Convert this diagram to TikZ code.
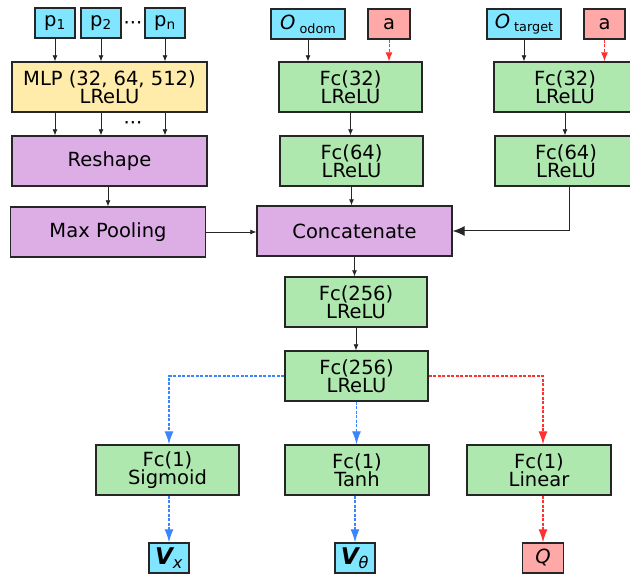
\documentclass[tikz,border=0pt]{standalone}
\usepackage{fontspec}
\setmainfont{DejaVu Sans}
\usepackage{tikz}
\usetikzlibrary{arrows.meta}
\definecolor{in_fill}{HTML}{80E5FF}
\definecolor{act_fill}{HTML}{FFA8A8}
\definecolor{mlp_fill}{HTML}{FFEBAA}
\definecolor{op_fill}{HTML}{DDAEE6}
\definecolor{fc_fill}{HTML}{AFE8AF}
\definecolor{edge_col}{HTML}{262626}
\definecolor{blue_flow}{HTML}{3A86FF}
\definecolor{red_flow}{HTML}{FF3030}

\begin{document}
\begin{tikzpicture}[
    x=1pt, y=-1pt,
    % Stili per i blocchi
    block/.style = {
        draw=edge_col,
        line width=1.4pt,
        inner sep=0,
        align=center,
        font=\fontsize{19.5}{17.5}\selectfont,
        minimum height=50pt
    },
    fc_block/.style = {block, fill=fc_fill, minimum width=143pt},
    op_block/.style = {block, fill=op_fill, minimum width=195pt},
    in_block/.style = {block, fill=in_fill, minimum height=30pt},
    act_block/.style = {block, fill=act_fill, minimum height=30pt, minimum width=42pt},
    dots/.style = {font=\fontsize{19.5}{17}\selectfont, inner sep=0},
    % Stili per le frecce
    flow/.style = {-{Latex[length=6pt,width=5pt]}, line width=0.8pt, draw=edge_col},
    act_flow/.style = {-{Latex[length=9pt,width=7pt]}, line width=1pt, draw=red_flow, dash pattern=on 3pt off 1.5pt},
    blue_out/.style = {-{Latex[length=13pt,width=9pt]}, line width=1.2pt, draw=blue_flow, dash pattern=on 3pt off 1.5pt},
    red_out/.style = {-{Latex[length=13pt,width=9pt]}, line width=1.2pt, draw=red_flow, dash pattern=on 3pt off 1.5pt}
]

% 0. Sfondo e dimensioni
\path[use as bounding box, fill=white] (0,0) rectangle (630,575);

% 1. Ramo dei punti
\node[in_block, minimum width=40pt] (p1) at (55,23) {p\textsubscript{1}};
\node[in_block, minimum width=40pt] (p2) at (101,23) {p\textsubscript{2}};
\node[in_block, minimum width=40pt] (pn) at (165,23) {p\textsubscript{n}};
\node[dots] (dots_in) at (133,26) {···};
\node[block, fill=mlp_fill, minimum width=195pt] (mlp) at (109.5,87) {MLP (32, 64, 512)\\LReLU};
\node[dots] (dots_mlp) at (133,126) {···};
\node[op_block] (reshape) at (109.5,161) {Reshape};
\node[op_block] (maxpool) at (108,232) {Max Pooling};

% 2. Ramo odometria
\node[in_block, minimum width=74pt] (o_odom) at (308,24) {\textit{O}\kern4pt\raisebox{-0.35ex}{\fontsize{12.8}{13}\selectfont odom}};
\node[act_block] (a_odom) at (389,24) {a};
\node[fc_block] (fc32_odom) at (350.5,87) {Fc(32)\\LReLU};
\node[fc_block] (fc64_odom) at (351.5,161) {Fc(64)\\LReLU};

% 3. Ramo target
\node[in_block, minimum width=74pt] (o_target) at (524,24) {\textit{O}\kern4pt\raisebox{-0.35ex}{\fontsize{12.8}{13}\selectfont target}};
\node[act_block, minimum width=41pt] (a_target) at (604.5,24) {a};
\node[fc_block, minimum width=142pt] (fc32_target) at (565,87) {Fc(32)\\LReLU};
\node[fc_block, minimum width=142pt] (fc64_target) at (566,161) {Fc(64)\\LReLU};

% 4. Tronco comune
\node[op_block] (concat) at (354.5,231) {Concatenate};
\node[fc_block, minimum width=142pt] (fc256_a) at (356,302) {Fc(256)\\LReLU};
\node[fc_block] (fc256_b) at (356.5,376) {Fc(256)\\LReLU};

% 5. Teste di uscita
\node[fc_block] (sigmoid) at (167.5,470) {Fc(1)\\Sigmoid};
\node[fc_block, minimum width=144pt] (tanh) at (357,470) {Fc(1)\\Tanh};
\node[fc_block, minimum width=144pt] (linear) at (539,470) {Fc(1)\\Linear};
\node[in_block, minimum width=40pt] (v_x) at (169,558) {\fontsize{23}{23}\selectfont\bfseries\itshape V\textsubscript{\mdseries x}};
\node[in_block, minimum width=40pt] (v_theta) at (355,558) {\fontsize{23}{23}\selectfont\bfseries\itshape V\textsubscript{\mdseries θ}};
\node[act_block, minimum width=41pt] (q_out) at (543,558) {\itshape Q};

% 6. Connessioni
\foreach \p in {p1, p2, pn} {
    \draw[flow] (\p.south) -- (\p.south |- mlp.north);
    \draw[flow] (mlp.south -| \p) -- (reshape.north -| \p);
}
\draw[flow] (reshape.south -| maxpool) -- (maxpool.north);
\draw[flow] (maxpool.east) -- (maxpool.east -| concat.west);

\draw[flow] (o_odom.south) -- (o_odom.south |- fc32_odom.north);
\draw[act_flow] (a_odom.south) -- (a_odom.south |- fc32_odom.north);
\draw[flow] (fc32_odom.south) -- (fc32_odom.south |- fc64_odom.north);
\draw[flow] (fc64_odom.south) -- (fc64_odom.south |- concat.north);

\draw[flow] (o_target.south) -- (o_target.south |- fc32_target.north);
\draw[act_flow] (a_target.south) -- (a_target.south |- fc32_target.north);
\draw[flow] (fc32_target.south) -- (fc32_target.south |- fc64_target.north);
\draw[-{Latex[length=12pt,width=10pt]}, line width=1pt, draw=edge_col]
    ([xshift=3pt]fc64_target.south) |- (concat.east);

\draw[flow] (concat.south) -- (concat.south |- fc256_a.north);
\draw[flow] (fc256_a.south) -- (fc256_a.south |- fc256_b.north);

\draw[blue_out] (fc256_b.west) -| ([xshift=1.5pt]sigmoid.north);
\draw[blue_out] (fc256_b.south) -- (fc256_b.south |- tanh.north);
\draw[red_out] (fc256_b.east) -| (linear.north -| q_out);

\draw[blue_out] (sigmoid.south -| v_x) -- (v_x.north);
\draw[blue_out] (tanh.south -| v_theta) -- (v_theta.north);
\draw[red_out] (linear.south -| q_out) -- (q_out.north);

\end{tikzpicture}
\end{document}
